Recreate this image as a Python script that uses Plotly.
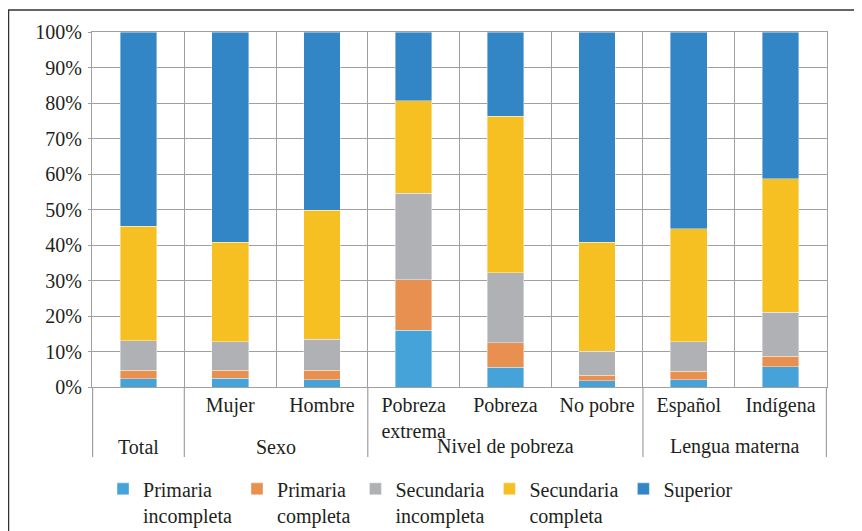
import plotly.graph_objects as go

# categories (two levels)
groups = ["Total", "Sexo", "Sexo", "Nivel de pobreza", "Nivel de pobreza", "Nivel de pobreza",
          "Lengua materna", "Lengua materna"]
subs = [" ", "Mujer", "Hombre", "Pobreza<br>extrema", "Pobreza", "No pobre", "Español", "Indígena"]

# shares (%) per education level
primaria_incompleta = [2.3, 2.5, 2.1, 16.0, 5.5, 1.7, 2.1, 5.7]
primaria_completa = [2.4, 2.2, 2.6, 14.2, 6.9, 1.6, 2.4, 3.0]
secundaria_incompleta = [8.3, 8.0, 8.7, 24.4, 19.8, 6.8, 8.2, 12.4]
secundaria_completa = [32.3, 28.1, 36.4, 26.0, 44.0, 30.7, 31.9, 37.5]
superior = [54.7, 59.2, 50.2, 19.4, 23.8, 59.2, 55.4, 41.4]

series = [
    ("Primaria<br>incompleta", primaria_incompleta, "#45a3d9"),
    ("Primaria<br>completa", primaria_completa, "#e8904f"),
    ("Secundaria<br>incompleta", secundaria_incompleta, "#b0b1b4"),
    ("Secundaria<br>completa", secundaria_completa, "#f6c022"),
    ("Superior", superior, "#3386c6"),
]

TEXT = "#231f20"
GRID = "#a0a0a0"
FONT = "'Liberation Serif', 'DejaVu Serif', serif"

fig = go.Figure()
for name, vals, color in series:
    fig.add_trace(go.Bar(
        x=subs, y=vals, name=name, width=0.4,
        marker=dict(color=color, line=dict(color="white", width=0.4)),
    ))

# group labels centred under their categories, dividers at group edges
shapes = [dict(
    type="rect", xref="paper", yref="paper",
    x0=-0.1136, x1=1.2, y0=-0.6, y1=1.062,
    line=dict(color="#333333", width=1.5), fillcolor="rgba(0,0,0,0)", layer="below",
)]
annotations = []
start = 0
for i in range(1, len(groups) + 1):
    if i == len(groups) or groups[i] != groups[start]:
        annotations.append(dict(
            x=(start + i - 1) / 2, xref="x", y=-0.169, yref="paper",
            text=groups[start], showarrow=False, yanchor="middle",
            font=dict(family=FONT, size=20, color=TEXT),
        ))
        for edge in ([start - 0.5] if start == 0 else []) + [i - 0.5]:
            shapes.append(dict(
                type="line", xref="x", yref="paper", x0=edge, x1=edge, y0=0, y1=-0.197,
                line=dict(color=GRID, width=1.2),
            ))
        start = i

# page body has an 8px margin, so the figure is sized to fit the 862x531 window
fig.update_layout(
    barmode="stack", barnorm="percent",
    width=854, height=523,
    margin=dict(l=84, r=35, t=24, b=144, autoexpand=False),
    paper_bgcolor="white", plot_bgcolor="white",
    font=dict(family=FONT, size=20, color=TEXT),
    legend=dict(
        orientation="h", x=0.015, xanchor="left", y=-0.232, yanchor="top", valign="top",
        font=dict(family=FONT, size=20, color=TEXT), traceorder="normal",
    ),
    shapes=shapes,
    annotations=annotations,
)
fig.update_xaxes(
    type="category", tickson="boundaries", showgrid=True, gridcolor=GRID, gridwidth=1.2,
    showline=True, linecolor=GRID, linewidth=1.2, mirror=True, automargin=False,
    ticks="", tickfont=dict(family=FONT, size=20, color=TEXT),
)
fig.update_yaxes(
    range=[0, 100], dtick=10, ticksuffix="%", showgrid=True, gridcolor=GRID, gridwidth=1.2,
    showline=True, linecolor=GRID, linewidth=1.2, mirror=True, automargin=False,
    ticks="outside", ticklen=3, tickcolor=GRID, ticklabelstandoff=2,
    tickfont=dict(family=FONT, size=20, color=TEXT), zeroline=False,
)

fig.write_html("out.html")
